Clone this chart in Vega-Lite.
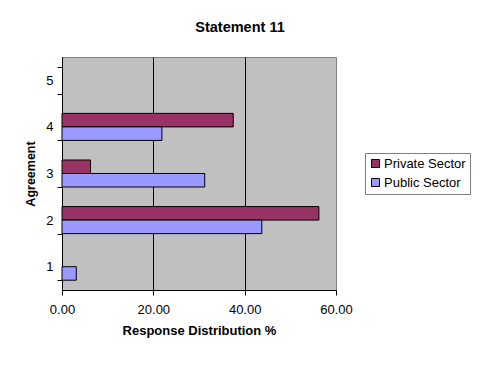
{
  "$schema": "https://vega.github.io/schema/vega-lite/v6.json",
  "autosize": "none",
  "width": 274,
  "height": 233,
  "padding": {"left": 62, "top": 57, "right": 144, "bottom": 75},
  "background": "white",
  "config": {
    "font": "Liberation Sans",
    "view": {"fill": "#C0C0C0", "stroke": "#808080", "strokeWidth": 1}
  },
  "title": {
    "text": "Statement 11",
    "fontSize": 14.5,
    "fontWeight": "bold",
    "color": "black",
    "anchor": "middle",
    "dx": 41,
    "offset": 16
  },
  "data": {
    "values": [
      {"agreement": "1", "sector": "Public Sector", "pct": 3.13},
      {"agreement": "2", "sector": "Private Sector", "pct": 56.25},
      {"agreement": "2", "sector": "Public Sector", "pct": 43.75},
      {"agreement": "3", "sector": "Private Sector", "pct": 6.25},
      {"agreement": "3", "sector": "Public Sector", "pct": 31.25},
      {"agreement": "4", "sector": "Private Sector", "pct": 37.5},
      {"agreement": "4", "sector": "Public Sector", "pct": 21.88}
    ]
  },
  "mark": {"type": "bar", "stroke": "black", "strokeWidth": 1},
  "encoding": {
    "y": {
      "field": "agreement",
      "type": "nominal",
      "scale": {"domain": ["5", "4", "3", "2", "1"], "paddingInner": 0.42, "paddingOuter": 0.21},
      "axis": {
        "title": "Agreement",
        "titleFontSize": 12.5,
        "titleFontWeight": "bold",
        "titleColor": "black",
        "titlePadding": 8,
        "labelFontSize": 13,
        "labelColor": "black",
        "labelAngle": 0,
        "labelPadding": 4,
        "tickBand": "extent",
        "ticks": true,
        "tickSize": 5,
        "tickWidth": 1,
        "tickColor": "black",
        "domainColor": "black",
        "grid": false
      }
    },
    "yOffset": {
      "field": "sector",
      "type": "nominal",
      "scale": {"domain": ["Private Sector", "Public Sector"], "paddingInner": 0, "paddingOuter": 0}
    },
    "x": {
      "field": "pct",
      "type": "quantitative",
      "scale": {"domain": [0, 60], "nice": false},
      "axis": {
        "title": "Response Distribution %",
        "titleFontSize": 13,
        "titleFontWeight": "bold",
        "titleColor": "black",
        "titlePadding": 8,
        "values": [0, 20, 40, 60],
        "format": ".2f",
        "labelFontSize": 13,
        "labelColor": "black",
        "labelPadding": 8,
        "labelFlush": false,
        "tickSize": 5,
        "tickColor": "black",
        "domainColor": "black",
        "grid": true,
        "gridColor": {"condition": {"test": "datum.value == 60", "value": "#808080"}, "value": "black"},
        "gridOpacity": 1
      }
    },
    "color": {
      "field": "sector",
      "type": "nominal",
      "scale": {"domain": ["Private Sector", "Public Sector"], "range": ["#993366", "#9999FF"]},
      "legend": {
        "title": null,
        "orient": "none",
        "legendX": 303,
        "legendY": 96,
        "direction": "vertical",
        "fillColor": "white",
        "strokeColor": "#808080",
        "padding": 4,
        "symbolType": "square",
        "symbolSize": 64,
        "symbolStrokeColor": "black",
        "symbolStrokeWidth": 1,
        "symbolOpacity": 1,
        "labelFontSize": 13,
        "labelColor": "black",
        "rowPadding": 5,
        "labelOffset": 2
      }
    }
  }
}
